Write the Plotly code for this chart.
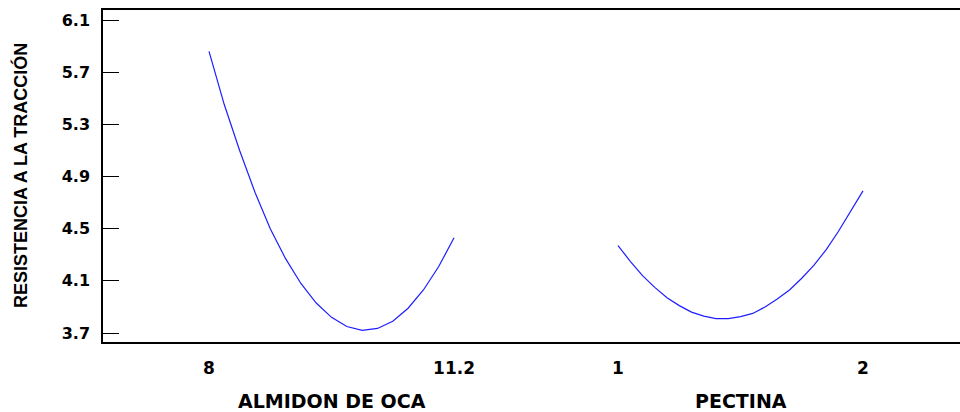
import plotly.graph_objects as go

# Factor 1: ALMIDON DE OCA
almidon_x = [8.0, 8.2, 8.4, 8.6, 8.8, 9.0, 9.2, 9.4, 9.6, 9.8, 10.0, 10.2, 10.4, 10.6, 10.8, 11.0, 11.2]
almidon_y = [5.86, 5.45, 5.10, 4.78, 4.50, 4.27, 4.08, 3.93, 3.82, 3.75, 3.72, 3.735, 3.79, 3.89, 4.03, 4.21, 4.43]

# Factor 2: PECTINA
pectina_x = [1.00, 1.05, 1.10, 1.15, 1.20, 1.25, 1.30, 1.35, 1.40, 1.45, 1.50,
             1.55, 1.60, 1.65, 1.70, 1.75, 1.80, 1.85, 1.90, 1.95, 2.00]
pectina_y = [4.37, 4.25, 4.14, 4.05, 3.97, 3.91, 3.86, 3.83, 3.81, 3.81, 3.825,
             3.85, 3.90, 3.96, 4.03, 4.12, 4.22, 4.34, 4.48, 4.63, 4.79]

factor_names = ["ALMIDON DE OCA", "PECTINA"]
almidon_ticks = [8, 11.2]
almidon_ticktext = ["8", "11.2"]
pectina_ticks = [1, 2]
pectina_ticktext = ["1", "2"]
y_ticks = [3.7, 4.1, 4.5, 4.9, 5.3, 5.7, 6.1]
y_title = "RESISTENCIA A LA TRACCIÓN"

WIDE = "DejaVu Sans, sans-serif"
FONT = "Liberation Sans, Arial, sans-serif"
LINE = dict(color="rgb(30,30,255)", width=1.2)

fig = go.Figure()
fig.add_trace(go.Scatter(x=almidon_x, y=almidon_y, mode="lines", line=LINE,
                         xaxis="x", yaxis="y", showlegend=False, hoverinfo="skip"))
fig.add_trace(go.Scatter(x=pectina_x, y=pectina_y, mode="lines", line=LINE,
                         xaxis="x2", yaxis="y", showlegend=False, hoverinfo="skip"))

split = 0.5053
yr = [3.631, 6.177]
ytickfont = dict(family=WIDE, size=16, color="black", weight="bold")
xtickfont = dict(family=WIDE, size=17, color="black", weight="bold")
titlefont = dict(family=WIDE, size=19, color="black", weight="bold")
ytitlefont = dict(family=FONT, size=18, color="black", weight="bold")

common_x = dict(showline=True, linecolor="black", linewidth=1.5, mirror=True,
                ticks="", showgrid=False, zeroline=False, tickfont=xtickfont,
                ticklabelstandoff=10, fixedrange=True)

fig.update_layout(
    width=960, height=412,
    margin=dict(l=103, r=0, t=10, b=70),
    paper_bgcolor="white", plot_bgcolor="white",
    xaxis=dict(domain=[0, split], range=[6.6155, 12.271], tickmode="array",
               tickvals=almidon_ticks, ticktext=almidon_ticktext, anchor="y", **common_x),
    xaxis2=dict(domain=[split, 1], range=[0.6653, 2.396], tickmode="array",
                tickvals=pectina_ticks, ticktext=pectina_ticktext, anchor="y", **common_x),
    yaxis=dict(range=yr, tickmode="array", tickvals=y_ticks,
               ticktext=[f"{v:.1f}" for v in y_ticks],
               showline=True, linecolor="black", linewidth=1.5, mirror=False,
               ticks="inside", ticklen=16, tickwidth=1, tickcolor="black",
               showgrid=False, zeroline=False, tickfont=ytickfont,
               ticklabelstandoff=8, anchor="x"),
    yaxis2=dict(range=yr, overlaying="y", side="right", anchor="x2",
                tickmode="array", tickvals=y_ticks, showticklabels=False,
                ticks="inside", ticklen=7, tickwidth=1.5, tickcolor="black",
                showline=False, showgrid=False, zeroline=False),
    annotations=[
        dict(text=factor_names[0], xref="x", x=(almidon_x[0] + almidon_x[-1]) / 2,
             yref="paper", y=-0.1792, yanchor="middle", xanchor="center",
             showarrow=False, font=titlefont),
        dict(text=factor_names[1], xref="x2", x=(pectina_x[0] + pectina_x[-1]) / 2,
             yref="paper", y=-0.1792, yanchor="middle", xanchor="center",
             showarrow=False, font=titlefont),
        dict(text=y_title, xref="paper", x=-0.0968, yref="paper", y=0.5,
             xanchor="center", yanchor="middle", textangle=-90,
             showarrow=False, font=ytitlefont),
    ],
)

fig.write_html("out.html")
